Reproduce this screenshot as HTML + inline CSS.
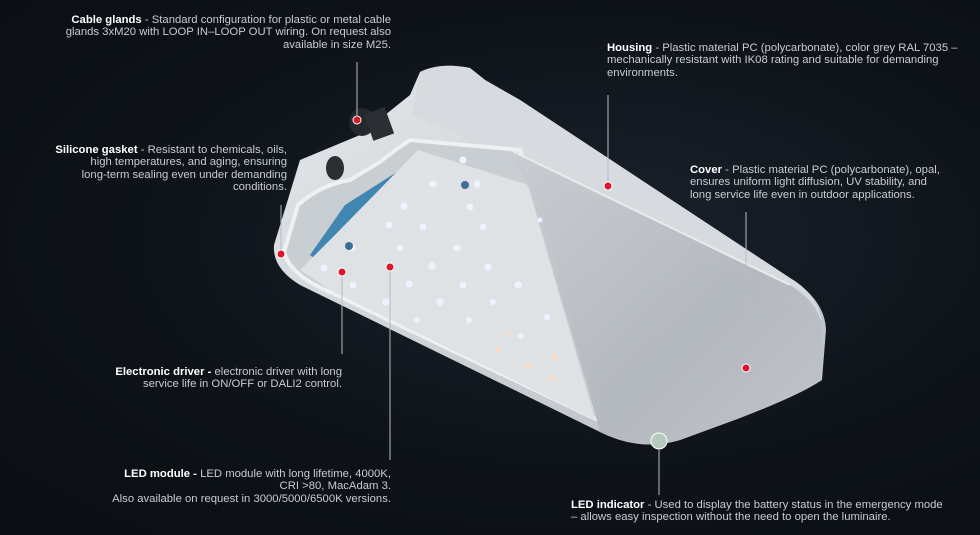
<!DOCTYPE html>
<html><head><meta charset="utf-8"><style>
html,body{margin:0;padding:0}
body{width:980px;height:535px;overflow:hidden;background:radial-gradient(ellipse at 60% 45%,#1a222c 0%,#0e1319 55%,#0a0e13 100%);position:relative;font-family:"Liberation Sans",sans-serif}
.t{position:absolute;font-size:11.3px;line-height:12.3px;color:#c9ccd0;white-space:nowrap}
.t b{color:#fff}
.r{text-align:right}
svg{position:absolute;left:0;top:0}
</style></head><body>
<svg width="980" height="535" viewBox="0 0 980 535">
<defs>
<linearGradient id="hg" x1="0" y1="0" x2="1" y2="1"><stop offset="0" stop-color="#e4e7ea"/><stop offset="1" stop-color="#b9bec4"/></linearGradient>
<linearGradient id="cg" x1="0" y1="0" x2="1" y2="1"><stop offset="0" stop-color="#c8ccd1"/><stop offset="0.6" stop-color="#b3b8be"/><stop offset="1" stop-color="#c0c4c9"/></linearGradient>
</defs>
<path d="M274,245 L300,160 L360,135 L410,95 L420,72 Q440,62 470,68 L485,80 L520,100 L790,278 Q825,300 826,330 L822,380 Q800,395 740,418 L680,440 Q640,452 600,432 L300,285 Q272,268 274,245 Z" fill="url(#hg)"/>
<path d="M420,72 Q440,62 470,68 L485,80 L520,100 L790,278 Q815,292 822,320 L530,170 L470,140 L412,115 Z" fill="#d7dbdf"/>
<path d="M284,252 L298,205 Q320,185 350,180 L380,162 Q395,150 410,140 L520,150 L530,180 L598,420 L330,292 Q290,275 284,252 Z" fill="#c9ced3" stroke="#eef0f2" stroke-width="4"/>
<path d="M310,255 L345,205 L400,170 L430,165 L330,270 Z" fill="#3f86b0"/>
<path d="M300,270 L330,240 L418,150 L528,185 L595,420 L330,290 Z" fill="#dfe2e5"/>
<path d="M510,150 L790,285 Q822,305 822,330 L820,378 Q790,395 740,418 L680,440 Q640,452 600,432 L530,190 Z" fill="url(#cg)" opacity="0.95"/>
<path d="M510,150 L790,285" stroke="#e8ebee" stroke-width="2"/>
<ellipse cx="362" cy="122" rx="13" ry="14" fill="#24272b"/>
<rect x="368" y="110" width="22" height="28" fill="#2b2e32" transform="rotate(-20 379 124)"/>
<ellipse cx="335" cy="168" rx="9" ry="12" fill="#2b2f34"/>
<g fill="#eef4ff">
<circle cx="463" cy="160" r="3.5"/><circle cx="433" cy="184" r="3.5"/><circle cx="477" cy="184" r="3.5"/><circle cx="404" cy="206" r="3.5"/><circle cx="470" cy="207" r="3.5"/><circle cx="389" cy="225" r="3.5"/><circle cx="423" cy="227" r="3.5"/><circle cx="483" cy="227" r="3.5"/><circle cx="352" cy="248" r="3.5"/><circle cx="400" cy="248" r="3.5"/><circle cx="457" cy="248" r="3.5"/><circle cx="324" cy="268" r="3.5"/><circle cx="432" cy="266" r="3.5"/><circle cx="488" cy="267" r="3.5"/><circle cx="353" cy="285" r="3.5"/><circle cx="409" cy="284" r="3.5"/><circle cx="463" cy="285" r="3.5"/><circle cx="518" cy="285" r="3.5"/><circle cx="386" cy="302" r="3.5"/><circle cx="440" cy="302" r="3.5"/><circle cx="493" cy="302" r="3"/><circle cx="417" cy="320" r="3"/><circle cx="469" cy="320" r="3"/><circle cx="547" cy="317" r="3"/><circle cx="521" cy="336" r="3"/><circle cx="540" cy="220" r="2.5"/>
</g>
<g fill="#f6dcc8"><circle cx="555" cy="357" r="3"/><circle cx="498" cy="350" r="3"/><circle cx="528" cy="367" r="3"/><circle cx="552" cy="378" r="3"/><circle cx="507" cy="333" r="2.5"/></g>
<circle cx="465" cy="185" r="4" fill="#3d6f96"/><circle cx="349" cy="246" r="4" fill="#3d6f96"/>
<g stroke="#b8bcc2" stroke-width="1">
<line x1="357" y1="62" x2="357" y2="115"/><line x1="281" y1="205" x2="281" y2="250"/><line x1="608" y1="95" x2="608" y2="182"/><line x1="746" y1="212" x2="746" y2="363"/><line x1="342" y1="276" x2="342" y2="354"/><line x1="390" y1="271" x2="390" y2="460"/><line x1="659" y1="450" x2="659" y2="495"/>
</g>
<g fill="#d9162a" stroke="#fff" stroke-width="1">
<circle cx="357" cy="120" r="4"/><circle cx="281" cy="254" r="4"/><circle cx="608" cy="186" r="4"/><circle cx="746" cy="368" r="4"/><circle cx="342" cy="272" r="4"/><circle cx="390" cy="267" r="4"/>
</g>
<circle cx="659" cy="441" r="8" fill="#b5cbbf" stroke="#fff" stroke-width="1"/>
</svg>
<div class="t r" style="right:589px;top:14px"><b>Cable glands</b> - Standard configuration for plastic or metal cable<br>glands 3xM20 with LOOP IN–LOOP OUT wiring. On request also<br>available in size M25.</div>
<div class="t r" style="right:693px;top:144px"><b>Silicone gasket</b> - Resistant to chemicals, oils,<br>high temperatures, and aging, ensuring<br>long-term sealing even under demanding<br>conditions.</div>
<div class="t" style="left:607px;top:42px"><b>Housing</b> - Plastic material PC (polycarbonate), color grey RAL 7035 –<br>mechanically resistant with IK08 rating and suitable for demanding<br>environments.</div>
<div class="t" style="left:690px;top:164px"><b>Cover</b> - Plastic material PC (polycarbonate), opal,<br>ensures uniform light diffusion, UV stability, and<br>long service life even in outdoor applications.</div>
<div class="t r" style="right:638px;top:366px"><b>Electronic driver -</b> electronic driver with long<br>service life in ON/OFF or DALI2 control.</div>
<div class="t r" style="right:589px;top:468px"><b>LED module -</b> LED module with long lifetime, 4000K,<br>CRI &gt;80, MacAdam 3.<br>Also available on request in 3000/5000/6500K versions.</div>
<div class="t" style="left:571px;top:499px"><b>LED indicator</b> - Used to display the battery status in the emergency mode<br>– allows easy inspection without the need to open the luminaire.</div>
</body></html>
